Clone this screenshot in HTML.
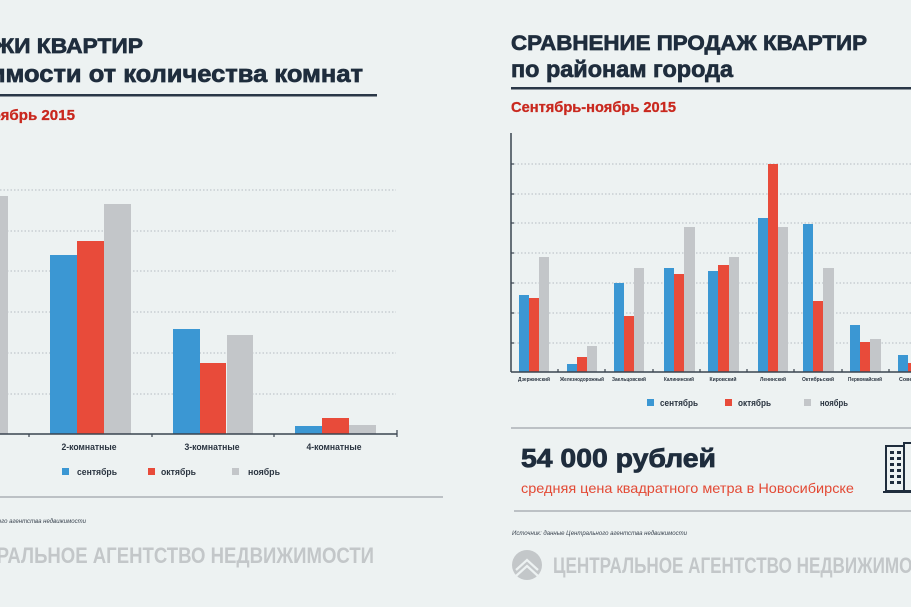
<!DOCTYPE html>
<html><head><meta charset="utf-8"><style>
html,body{margin:0;padding:0;background:#edf2f2;}
svg{display:block;}
text{font-family:"Liberation Sans","DejaVu Sans",sans-serif;}
</style></head><body>
<svg width="911" height="607" viewBox="0 0 911 607" xmlns="http://www.w3.org/2000/svg">
<rect x="0" y="0" width="911" height="607" fill="#edf2f2"/>

<!-- LEFT TITLES -->
<text x="-88" y="53" font-size="21" font-weight="bold" fill="#1f2d3d" stroke="#1f2d3d" stroke-width="0.7" textLength="231" lengthAdjust="spacingAndGlyphs">ПРОДАЖИ КВАРТИР</text>
<text x="-105" y="82" font-size="24" font-weight="bold" fill="#1f2d3d" stroke="#1f2d3d" stroke-width="0.7" textLength="468" lengthAdjust="spacingAndGlyphs">в зависимости от количества комнат</text>
<rect x="0" y="94" width="377" height="2.5" fill="#2a3747"/>
<text x="-95" y="120" font-size="15" font-weight="bold" fill="#c9281e" stroke="#c9281e" stroke-width="0.3" textLength="170" lengthAdjust="spacingAndGlyphs">Сентябрь-ноябрь 2015</text>

<!-- LEFT CHART GRID -->
<g stroke="#b5bcc1" stroke-width="1" stroke-dasharray="1.5 2">
<line x1="0" y1="190" x2="396" y2="190"/>
<line x1="0" y1="231" x2="396" y2="231"/>
<line x1="0" y1="271" x2="396" y2="271"/>
<line x1="0" y1="312" x2="396" y2="312"/>
<line x1="0" y1="353" x2="396" y2="353"/>
<line x1="0" y1="394" x2="396" y2="394"/>
</g>
<!-- left bars -->
<rect x="-18" y="196" width="26" height="238" fill="#c3c6c9"/>
<rect x="50" y="255" width="27" height="179" fill="#3b97d3"/>
<rect x="77" y="241" width="27" height="193" fill="#e84b3a"/>
<rect x="104" y="204" width="27" height="230" fill="#c3c6c9"/>
<rect x="173" y="329" width="27" height="105" fill="#3b97d3"/>
<rect x="200" y="363" width="26" height="71" fill="#e84b3a"/>
<rect x="227" y="335" width="26" height="99" fill="#c3c6c9"/>
<rect x="295" y="426" width="27" height="8" fill="#3b97d3"/>
<rect x="322" y="418" width="27" height="16" fill="#e84b3a"/>
<rect x="349" y="425" width="27" height="9" fill="#c3c6c9"/>
<line x1="0" y1="434" x2="397" y2="434" stroke="#3a4450" stroke-width="1.5"/>
<g stroke="#3a4450" stroke-width="1.2">
<line x1="29" y1="434" x2="29" y2="437"/>
<line x1="152" y1="434" x2="152" y2="437"/>
<line x1="274" y1="434" x2="274" y2="437"/>
<line x1="397" y1="430" x2="397" y2="437"/>
</g>
<g font-size="9" font-weight="bold" fill="#2a3440" text-anchor="middle">
<text x="-33" y="450" textLength="55" lengthAdjust="spacingAndGlyphs">1-комнатные</text>
<text x="89" y="450" textLength="55" lengthAdjust="spacingAndGlyphs">2-комнатные</text>
<text x="212" y="450" textLength="55" lengthAdjust="spacingAndGlyphs">3-комнатные</text>
<text x="334" y="450" textLength="55" lengthAdjust="spacingAndGlyphs">4-комнатные</text>
</g>
<!-- left legend -->
<rect x="62" y="468" width="7" height="7" fill="#3b97d3"/>
<rect x="148" y="468" width="7" height="7" fill="#e84b3a"/>
<rect x="232" y="468" width="7" height="7" fill="#c3c6c9"/>
<g font-size="9.5" font-weight="bold" fill="#2a3440">
<text x="77" y="475" textLength="40" lengthAdjust="spacingAndGlyphs">сентябрь</text>
<text x="161" y="475" textLength="35" lengthAdjust="spacingAndGlyphs">октябрь</text>
<text x="248" y="475" textLength="32" lengthAdjust="spacingAndGlyphs">ноябрь</text>
</g>
<rect x="0" y="496" width="443" height="2" fill="#bcc1c5"/>
<text x="-89" y="523" font-size="6" font-style="italic" fill="#3a4450" textLength="175" lengthAdjust="spacingAndGlyphs">Источник: данные Центрального агентства недвижимости</text>
<text x="-54" y="563" font-size="22" font-weight="bold" fill="#c3c7c9" textLength="428" lengthAdjust="spacingAndGlyphs">ЦЕНТРАЛЬНОЕ АГЕНТСТВО НЕДВИЖИМОСТИ</text>

<!-- RIGHT TITLES -->
<text x="511" y="50" font-size="21" font-weight="bold" fill="#1f2d3d" stroke="#1f2d3d" stroke-width="0.7" textLength="356" lengthAdjust="spacingAndGlyphs">СРАВНЕНИЕ ПРОДАЖ КВАРТИР</text>
<text x="511" y="77" font-size="23" font-weight="bold" fill="#1f2d3d" stroke="#1f2d3d" stroke-width="0.7" textLength="222" lengthAdjust="spacingAndGlyphs">по районам города</text>
<rect x="511" y="87" width="400" height="2.5" fill="#2a3747"/>
<text x="511" y="112" font-size="15" font-weight="bold" fill="#c9281e" stroke="#c9281e" stroke-width="0.3" textLength="165" lengthAdjust="spacingAndGlyphs">Сентябрь-ноябрь 2015</text>

<!-- RIGHT CHART -->
<g stroke="#b5bcc1" stroke-width="1" stroke-dasharray="1.5 2">
<line x1="514" y1="164" x2="911" y2="164"/>
<line x1="514" y1="194" x2="911" y2="194"/>
<line x1="514" y1="223" x2="911" y2="223"/>
<line x1="514" y1="253" x2="911" y2="253"/>
<line x1="514" y1="283" x2="911" y2="283"/>
<line x1="514" y1="313" x2="911" y2="313"/>
<line x1="514" y1="343" x2="911" y2="343"/>
</g>
<g stroke="#3a4450" stroke-width="1.2">
<line x1="511" y1="164" x2="514" y2="164"/>
<line x1="511" y1="194" x2="514" y2="194"/>
<line x1="511" y1="223" x2="514" y2="223"/>
<line x1="511" y1="253" x2="514" y2="253"/>
<line x1="511" y1="283" x2="514" y2="283"/>
<line x1="511" y1="313" x2="514" y2="313"/>
<line x1="511" y1="343" x2="514" y2="343"/>
</g>
<g>
<rect x="519" y="295" width="10" height="77" fill="#3b97d3"/>
<rect x="529" y="298" width="10" height="74" fill="#e84b3a"/>
<rect x="539" y="257" width="10" height="115" fill="#c3c6c9"/>

<rect x="567" y="364" width="10" height="8" fill="#3b97d3"/>
<rect x="577" y="357" width="10" height="15" fill="#e84b3a"/>
<rect x="587" y="346" width="10" height="26" fill="#c3c6c9"/>

<rect x="614" y="283" width="10" height="89" fill="#3b97d3"/>
<rect x="624" y="316" width="10" height="56" fill="#e84b3a"/>
<rect x="634" y="268" width="10" height="104" fill="#c3c6c9"/>

<rect x="664" y="268" width="10" height="104" fill="#3b97d3"/>
<rect x="674" y="274" width="10" height="98" fill="#e84b3a"/>
<rect x="684" y="227" width="11" height="145" fill="#c3c6c9"/>

<rect x="708" y="271" width="10" height="101" fill="#3b97d3"/>
<rect x="718" y="265" width="11" height="107" fill="#e84b3a"/>
<rect x="729" y="257" width="10" height="115" fill="#c3c6c9"/>

<rect x="758" y="218" width="10" height="154" fill="#3b97d3"/>
<rect x="768" y="164" width="10" height="208" fill="#e84b3a"/>
<rect x="778" y="227" width="10" height="145" fill="#c3c6c9"/>

<rect x="803" y="224" width="10" height="148" fill="#3b97d3"/>
<rect x="813" y="301" width="10" height="71" fill="#e84b3a"/>
<rect x="823" y="268" width="11" height="104" fill="#c3c6c9"/>

<rect x="850" y="325" width="10" height="47" fill="#3b97d3"/>
<rect x="860" y="342" width="10" height="30" fill="#e84b3a"/>
<rect x="870" y="339" width="11" height="33" fill="#c3c6c9"/>

<rect x="898" y="355" width="10" height="17" fill="#3b97d3"/>
<rect x="908" y="363" width="10" height="9" fill="#e84b3a"/>
</g>
<line x1="511" y1="133" x2="511" y2="372" stroke="#3a4450" stroke-width="1.5"/>
<line x1="511" y1="372" x2="911" y2="372" stroke="#3a4450" stroke-width="1.5"/>
<g stroke="#3a4450" stroke-width="1.2">
<line x1="558" y1="369" x2="558" y2="372"/>
<line x1="605" y1="369" x2="605" y2="372"/>
<line x1="653" y1="369" x2="653" y2="372"/>
<line x1="700" y1="369" x2="700" y2="372"/>
<line x1="747" y1="369" x2="747" y2="372"/>
<line x1="794" y1="369" x2="794" y2="372"/>
<line x1="842" y1="369" x2="842" y2="372"/>
<line x1="889" y1="369" x2="889" y2="372"/>
</g>
<g font-size="5.5" font-weight="bold" fill="#2a3440" text-anchor="middle">
<text x="534" y="381" textLength="32" lengthAdjust="spacingAndGlyphs">Дзержинский</text>
<text x="582" y="381" textLength="44" lengthAdjust="spacingAndGlyphs">Железнодорожный</text>
<text x="629" y="381" textLength="34" lengthAdjust="spacingAndGlyphs">Заельцовский</text>
<text x="679" y="381" textLength="30" lengthAdjust="spacingAndGlyphs">Калининский</text>
<text x="723" y="381" textLength="27" lengthAdjust="spacingAndGlyphs">Кировский</text>
<text x="773" y="381" textLength="26" lengthAdjust="spacingAndGlyphs">Ленинский</text>
<text x="818" y="381" textLength="32" lengthAdjust="spacingAndGlyphs">Октябрьский</text>
<text x="865" y="381" textLength="34" lengthAdjust="spacingAndGlyphs">Первомайский</text>
<text x="913" y="381" textLength="28" lengthAdjust="spacingAndGlyphs">Советский</text>
</g>
<!-- right legend -->
<rect x="647" y="399" width="7" height="7" fill="#3b97d3"/>
<rect x="725" y="399" width="7" height="7" fill="#e84b3a"/>
<rect x="804" y="399" width="7" height="7" fill="#c3c6c9"/>
<g font-size="9.5" font-weight="bold" fill="#2a3440">
<text x="660" y="406" textLength="38" lengthAdjust="spacingAndGlyphs">сентябрь</text>
<text x="738" y="406" textLength="33" lengthAdjust="spacingAndGlyphs">октябрь</text>
<text x="820" y="406" textLength="28" lengthAdjust="spacingAndGlyphs">ноябрь</text>
</g>

<!-- price block -->
<rect x="511" y="427" width="400" height="2" fill="#bcc1c5"/>
<text x="521" y="467" font-size="26" font-weight="bold" fill="#1f2d3d" stroke="#1f2d3d" stroke-width="0.8" textLength="195" lengthAdjust="spacingAndGlyphs">54 000 рублей</text>
<text x="521" y="493" font-size="14" fill="#e34a35" textLength="333" lengthAdjust="spacingAndGlyphs">средняя цена квадратного метра в Новосибирске</text>
<!-- building icon -->
<g>
<rect x="886" y="446" width="19" height="45" fill="#edf2f2" stroke="#1f2d3d" stroke-width="2"/>
<rect x="904" y="443" width="8" height="48" fill="#edf2f2" stroke="#1f2d3d" stroke-width="2"/>
<g fill="#1f2d3d">
<rect x="890" y="451" width="4" height="3"/><rect x="897" y="451" width="4" height="3"/>
<rect x="890" y="457" width="4" height="3"/><rect x="897" y="457" width="4" height="3"/>
<rect x="890" y="463" width="4" height="3"/><rect x="897" y="463" width="4" height="3"/>
<rect x="890" y="469" width="4" height="3"/><rect x="897" y="469" width="4" height="3"/>
<rect x="890" y="475" width="4" height="3"/><rect x="897" y="475" width="4" height="3"/>
<rect x="890" y="481" width="4" height="3"/><rect x="897" y="481" width="4" height="3"/>
</g>
<rect x="883" y="491" width="28" height="2" fill="#1f2d3d"/>
</g>
<rect x="514" y="510" width="397" height="2" fill="#bcc1c5"/>
<text x="512" y="535" font-size="6" font-style="italic" fill="#3a4450" textLength="175" lengthAdjust="spacingAndGlyphs">Источник: данные Центрального агентства недвижимости</text>
<!-- logo -->
<circle cx="527" cy="565" r="15" fill="#c3c7c9"/>
<polyline points="516,570 527,560 538,570" fill="none" stroke="#edf2f2" stroke-width="2.2"/>
<polyline points="516,576 527,566 538,576" fill="none" stroke="#edf2f2" stroke-width="2.2"/>
<text x="553" y="573" font-size="22" font-weight="bold" fill="#c3c7c9" textLength="394" lengthAdjust="spacingAndGlyphs">ЦЕНТРАЛЬНОЕ АГЕНТСТВО НЕДВИЖИМОСТИ</text>
</svg>
</body></html>
